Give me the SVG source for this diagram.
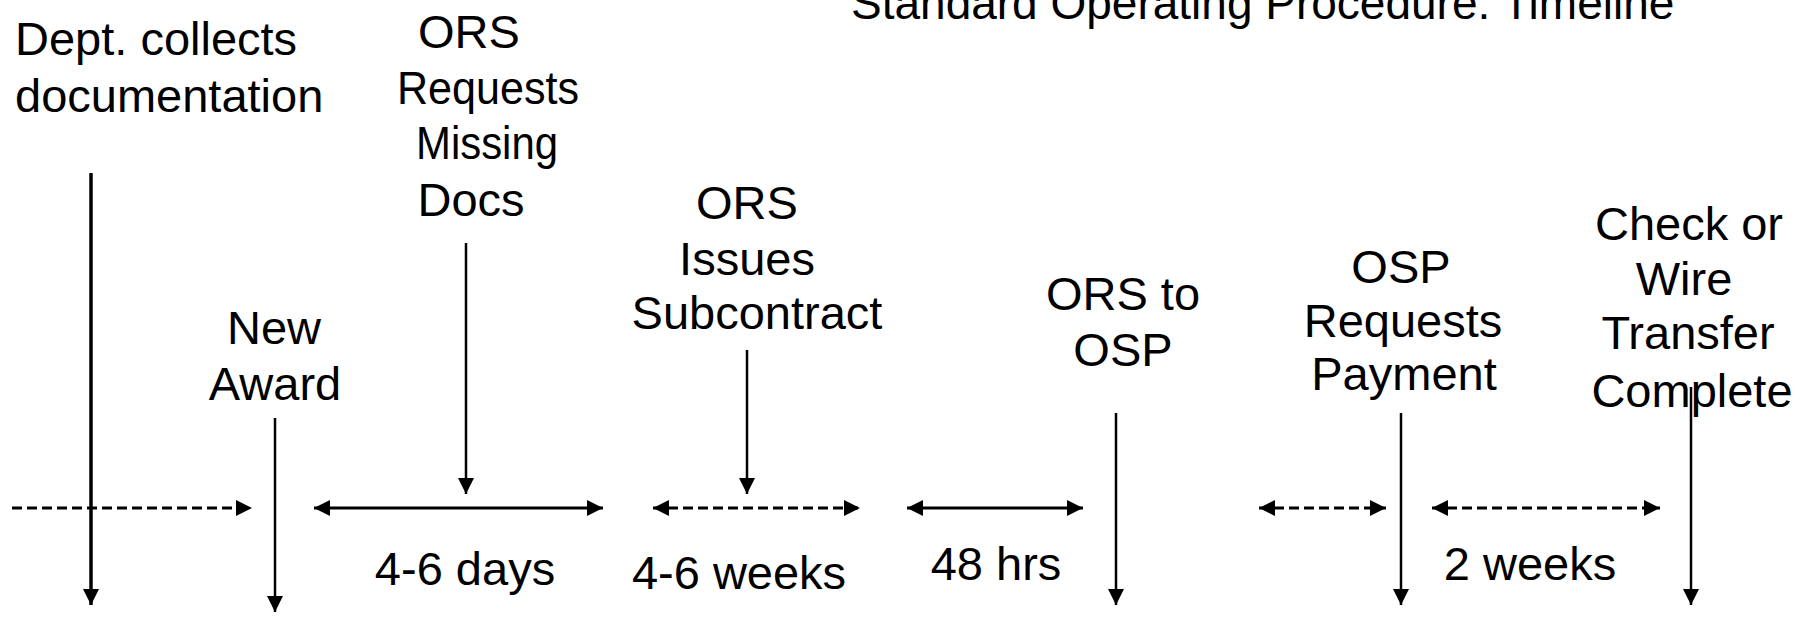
<svg xmlns="http://www.w3.org/2000/svg" width="1811" height="620" viewBox="0 0 1811 620">
<defs>
<marker id="ah" viewBox="0 0 16 16" refX="16" refY="8" markerWidth="16" markerHeight="16" markerUnits="userSpaceOnUse" orient="auto-start-reverse">
<path d="M0,0 L16,8 L0,16 Z" fill="#000"/>
</marker>
<style>
text{font-family:"Liberation Sans",Arial,sans-serif;font-size:47px;fill:#000;text-anchor:middle}
.l{text-anchor:start}
.t{font-size:46px;text-anchor:start}
.v{stroke:#000;stroke-width:2.5;fill:none}
.h{stroke:#000;stroke-width:3;fill:none}
.d{stroke-dasharray:10 5}
</style>
</defs>
<rect width="1811" height="620" fill="#fff"/>
<text class="t" x="851" y="19">Standard Operating Procedure: Timeline</text>
<g id="dept">
<text class="l" x="15" y="55">Dept. collects</text>
<text class="l" x="15" y="112">documentation</text>
</g>
<g id="ors-requests">
<text x="469" y="48">ORS</text>
<text x="488" y="104" textLength="182" lengthAdjust="spacingAndGlyphs">Requests</text>
<text x="487" y="159" textLength="142" lengthAdjust="spacingAndGlyphs">Missing</text>
<text x="471" y="216">Docs</text>
</g>
<g id="new-award">
<text x="274" y="344">New</text>
<text x="275" y="400">Award</text>
</g>
<g id="ors-issues">
<text x="747" y="219">ORS</text>
<text x="747" y="275">Issues</text>
<text x="757" y="329">Subcontract</text>
</g>
<g id="ors-osp">
<text x="1123" y="310">ORS to</text>
<text x="1123" y="366">OSP</text>
</g>
<g id="osp-payment">
<text x="1401" y="283">OSP</text>
<text x="1403" y="337">Requests</text>
<text x="1404" y="390">Payment</text>
</g>
<g id="complete">
<text x="1689" y="240">Check or</text>
<text x="1684" y="295">Wire</text>
<text x="1688" y="349">Transfer</text>
<text x="1692" y="407">Complete</text>
</g>
<g id="durations">
<text x="465" y="585">4-6 days</text>
<text x="739" y="589">4-6 weeks</text>
<text x="996" y="580">48 hrs</text>
<text x="1530" y="580">2 weeks</text>
</g>
<g id="connectors">
<line class="v" x1="91" y1="173" x2="91" y2="605" style="stroke-width:3.5" marker-end="url(#ah)"/>
<line class="v" x1="275" y1="418" x2="275" y2="612" marker-end="url(#ah)"/>
<line class="v" x1="466" y1="243" x2="466" y2="494" marker-end="url(#ah)"/>
<line class="v" x1="747" y1="350" x2="747" y2="494" marker-end="url(#ah)"/>
<line class="v" x1="1116" y1="413" x2="1116" y2="605" marker-end="url(#ah)"/>
<line class="v" x1="1401" y1="413" x2="1401" y2="605" marker-end="url(#ah)"/>
<line class="v" x1="1691" y1="387" x2="1691" y2="605" marker-end="url(#ah)"/>
<line class="h d" x1="12" y1="508" x2="252" y2="508" marker-end="url(#ah)"/>
<line class="h" x1="314" y1="508" x2="603" y2="508" marker-start="url(#ah)" marker-end="url(#ah)"/>
<line class="h d" x1="653" y1="508" x2="860" y2="508" marker-start="url(#ah)" marker-end="url(#ah)"/>
<line class="h" x1="907" y1="508" x2="1083" y2="508" marker-start="url(#ah)" marker-end="url(#ah)"/>
<line class="h d" x1="1259" y1="508" x2="1386" y2="508" marker-start="url(#ah)" marker-end="url(#ah)"/>
<line class="h d" x1="1432" y1="508" x2="1660" y2="508" marker-start="url(#ah)" marker-end="url(#ah)"/>
</g>
</svg>
